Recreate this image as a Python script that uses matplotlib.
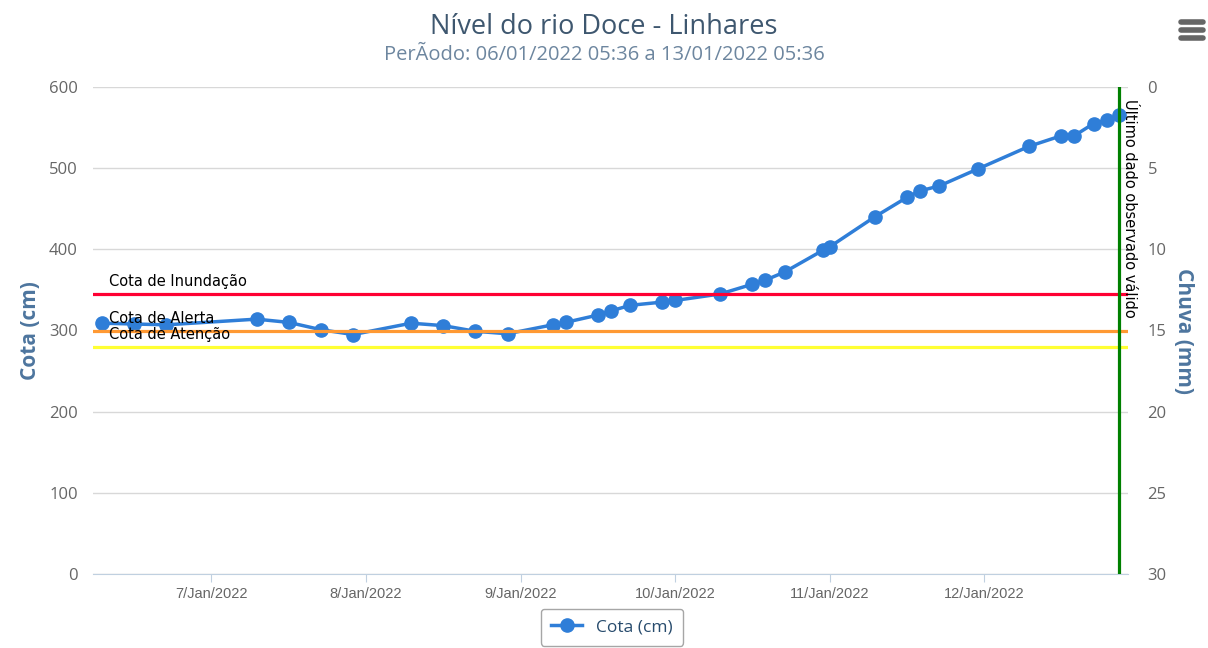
import numpy as np
import pandas as pd
import matplotlib
matplotlib.use('Agg')
from matplotlib import pyplot as plt
import matplotlib.dates as mdates
from matplotlib.lines import Line2D

plt.rcParams['font.family'] = ['Open Sans', 'DejaVu Sans']

# data (hourly readings, cm)
times = ['2022-01-06 07:00', '2022-01-06 12:00', '2022-01-06 17:00',
         '2022-01-07 07:00', '2022-01-07 12:00', '2022-01-07 17:00', '2022-01-07 22:00',
         '2022-01-08 07:00', '2022-01-08 12:00', '2022-01-08 17:00', '2022-01-08 22:00',
         '2022-01-09 05:00', '2022-01-09 07:00', '2022-01-09 12:00', '2022-01-09 14:00',
         '2022-01-09 17:00', '2022-01-09 22:00', '2022-01-10 00:00',
         '2022-01-10 07:00', '2022-01-10 12:00', '2022-01-10 14:00', '2022-01-10 17:00',
         '2022-01-10 23:00', '2022-01-11 00:00',
         '2022-01-11 07:00', '2022-01-11 12:00', '2022-01-11 14:00', '2022-01-11 17:00',
         '2022-01-11 23:00',
         '2022-01-12 07:00', '2022-01-12 12:00', '2022-01-12 14:00', '2022-01-12 17:00',
         '2022-01-12 19:00', '2022-01-12 21:00']
cota = [309, 308, 307,
        314, 310, 301, 295,
        309, 306, 299, 296,
        307, 310, 319, 324,
        331, 335, 337,
        345, 357, 362, 372,
        399, 403,
        440, 464, 472, 478,
        499,
        527, 540, 540, 555,
        559, 565]

limiares = [345, 300, 280]
limiar_nomes = ['Cota de Inundação', 'Cota de Alerta', 'Cota de Atenção']
limiar_cores = ['#ff0033', '#ff9933', '#ffff33']

ultimo_dado = '2022-01-12 21:00'
inicio = '2022-01-06 05:36'
fim_eixo = '2022-01-12 22:20'

t = pd.to_datetime(times)

fig = plt.figure(figsize=(12.08, 6.48), dpi=100)
ax = fig.add_axes([93/1208, 1-574/648, (1128-93)/1208, (574-87)/648])

ax.plot(t, cota, '-o', color='#2f7ed8', lw=2.5, ms=9.5, zorder=3, label='Cota (cm)')

for v, nome, cor in zip(limiares, limiar_nomes, limiar_cores):
    ax.axhline(v, color=cor, lw=2.3, zorder=4)
    ax.annotate(nome, xy=(0.015, v), xycoords=('axes fraction', 'data'),
                xytext=(0, 3.5), textcoords='offset points', fontsize=10.5,
                color='black', va='bottom', zorder=5, family=['DejaVu Sans'])

xu = pd.Timestamp(ultimo_dado)
ax.axvline(xu, color='#008000', lw=2.3, zorder=5)
ax.annotate('Último dado observado válido', xy=(xu, 0.975), xycoords=('data', 'axes fraction'),
            xytext=(2, 0), textcoords='offset points', rotation=-90,
            ha='left', va='top', fontsize=10.5, color='black', zorder=6,
            family=['DejaVu Sans'])

ax.set_xlim(pd.Timestamp(inicio), pd.Timestamp(fim_eixo))
ax.set_ylim(0, 600)
ax.set_yticks(np.arange(0, 601, 100))
ax.grid(axis='y', color='#d8d8d8', lw=1)
ax.set_axisbelow(True)
for s in ['top', 'right', 'left']:
    ax.spines[s].set_visible(False)
ax.spines['bottom'].set_color('#c0d0e0')
ax.tick_params(axis='y', length=0, pad=11, labelsize=12, labelcolor='#666666')
ax.tick_params(axis='x', length=6, color='#c0d0e0', pad=3, labelsize=10.5, labelcolor='#666666')
ax.xaxis.set_major_locator(mdates.DayLocator())
ax.xaxis.set_major_formatter(mdates.DateFormatter('%-d/%b/%Y'))
for lab in ax.get_xticklabels():
    lab.set_family('Liberation Sans')
ax.set_ylabel('Cota (cm)', color='#4d759e', fontsize=15, fontweight='bold', labelpad=6)

ax2 = ax.twinx()
ax2.set_ylim(30, 0)
ax2.set_yticks(np.arange(0, 31, 5))
for s in ax2.spines.values():
    s.set_visible(False)
ax2.tick_params(axis='y', length=0, pad=14, labelsize=12, labelcolor='#666666')
ax2.set_ylabel('Chuva (mm)', color='#4d759e', fontsize=15, fontweight='bold',
               rotation=270, labelpad=20)

fig.text(0.5, 1-27/648, 'Nível do rio Doce - Linhares', ha='center', va='center',
         fontsize=19.5, color='#3e576f')
fig.text(0.5, 1-55/648, 'PerÃodo: 06/01/2022 05:36 a 13/01/2022 05:36', ha='center',
         va='center', fontsize=14.5, color='#6d869f')

# menu icon
for yy in [22, 30, 38]:
    fig.add_artist(Line2D([1181/1208, 1203/1208], [1-yy/648, 1-yy/648], color='#666666',
                          lw=4, solid_capstyle='round'))

leg = fig.legend(loc='upper center', bbox_to_anchor=(612/1208, 1-600/648), fontsize=12.5,
                 frameon=True, fancybox=True, edgecolor='#909090', handlelength=1.8,
                 borderpad=0.6)
for txt in leg.get_texts():
    txt.set_color('#274b6d')

fig.savefig('out.png', dpi=100)
